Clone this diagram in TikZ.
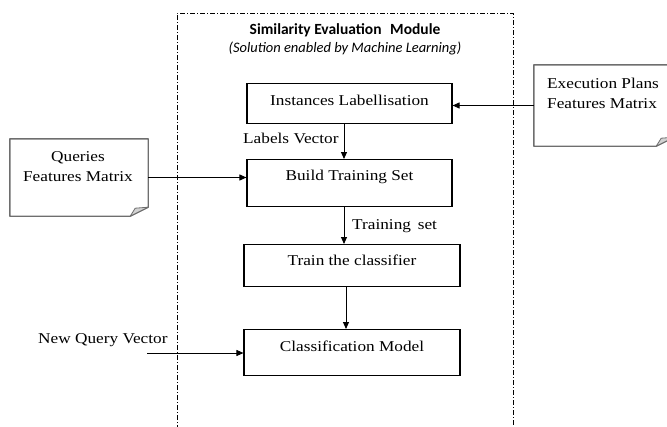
\documentclass[tikz,border=0pt]{standalone}
\usepackage{fontspec}
\setmainfont[FakeStretch=1.15]{Liberation Serif}
\newfontfamily\titlefont{Carlito}
\usetikzlibrary{arrows.meta,calc}
\definecolor{notegray}{HTML}{6E6E6E}
\begin{document}
\begin{tikzpicture}[x=1pt,y=-1pt,
  proc/.style={draw, line width=1.1pt, inner sep=0pt, anchor=north, font=\fontsize{15}{18}\selectfont},
  lbl/.style={inner sep=0pt, anchor=base west, font=\fontsize{15}{18}\selectfont},
  notetext/.style={inner sep=0pt, font=\fontsize{15}{20}\selectfont},
  notebox/.style={draw=none, inner sep=0pt},
  noteline/.style={draw=notegray, line width=1.4pt, line join=round},
  foldfill/.style={draw=notegray, fill=gray!35, line width=0.8pt, line join=round},
  arr/.style={line width=0.9pt, -{Triangle[length=7pt,width=6pt]}},
  modline/.style={line width=0.9pt, dash pattern=on 5pt off 2pt on 1pt off 2pt}
]
\useasboundingbox (0,0) rectangle (667,426);
\clip (0,0) rectangle (667,426);

% module frame
\coordinate (mbl) at (177,430);
\coordinate (mtl) at (177,13);
\coordinate (mtr) at (513,13);
\coordinate (mbr) at (513,430);
\draw[modline] (mbl) -- (mtl) -- (mtr) -- (mbr);

\node[font=\titlefont\bfseries\fontsize{15.5}{18}\selectfont, inner sep=0pt] (title) at (345,30) {Similarity Evaluation\,\, Module};
\node[font=\titlefont\itshape\fontsize{14.5}{17}\selectfont, inner sep=0pt] (subtitle) at (345,48) {(Solution enabled by Machine Learning)};

% process boxes
\node[proc, minimum width=205, text height=22pt, text depth=18pt] (inst) at (349.5,83) {Instances Labellisation};
\node[proc, minimum width=205, text height=21pt, text depth=26pt] (build) at (349.5,159) {Build Training Set};
\node[proc, minimum width=216, text height=21pt, text depth=21pt] (train) at (352,244) {Train the classifier};
\node[proc, minimum width=216, text height=22pt, text depth=24pt] (cls) at (352,329) {Classification Model};

% notes
\node[notebox, minimum width=138, minimum height=77] (qbox) at (79,177.5) {};
\node[notebox, minimum width=140, minimum height=81] (ebox) at (604,105.5) {};
\foreach \n in {qbox,ebox}{
  \draw[noteline] (\n.north west) -- (\n.north east) -- ($(\n.south east)+(0,-9)$) -- ($(\n.south east)+(-18,0)$) -- (\n.south west) -- cycle;
  \draw[foldfill] ($(\n.south east)+(-18,0)$) -- ($(\n.south east)+(-13,-8)$) -- ($(\n.south east)+(0,-9)$) -- cycle;
}
\node[notetext, align=center] (qtext) at (78,167) {Queries\\Features Matrix};
\node[notetext, align=left, anchor=west] (etext) at (547,93) {Execution Plans\\Features Matrix};

% labels
\node[lbl] (lv) at (243,143) {Labels Vector};
\node[lbl] (ts) at (352,229) {Training\, set};
\node[lbl] (nqv) at (38,343) {New Query Vector};
\coordinate (nqstart) at (147,353);

% connectors
\draw[arr] ([xshift=-5.5pt]inst.south) -- ([xshift=-5.5pt]inst.south |- build.north);
\draw[arr] ([xshift=-5.5pt]build.south) -- ([xshift=-5.5pt]build.south |- train.north);
\draw[arr] ([xshift=-6pt]train.south) -- ([xshift=-6pt]train.south |- cls.north);
\draw[arr] (qbox.east) -- (qbox.east -| build.west);
\draw[arr] (ebox.west) -- (ebox.west -| inst.east);
\draw[arr] (nqstart) -- (nqstart -| cls.west);
\end{tikzpicture}
\end{document}
